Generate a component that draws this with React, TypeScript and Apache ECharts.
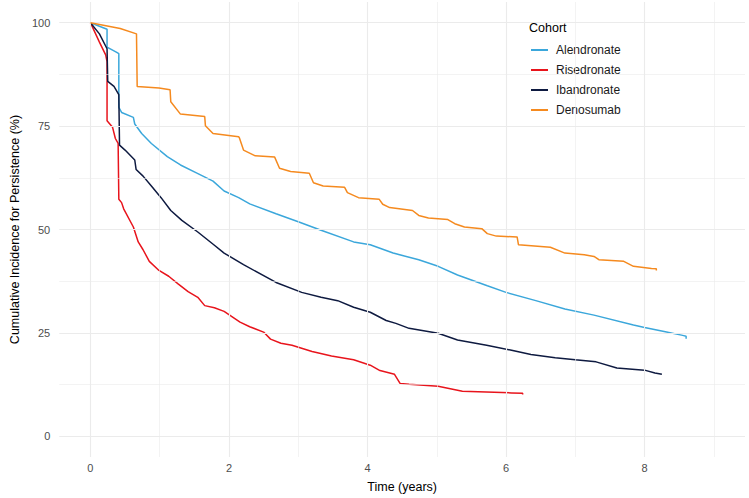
import React, { useEffect, useRef } from "react";
import * as echarts from "echarts";

const cohorts = ["Alendronate", "Risedronate", "Ibandronate", "Denosumab"];
const colors = ["#3BA7DB", "#E8141C", "#0E1A40", "#F58A1F"];

const alendronateT = [0, 0.24, 0.24, 0.38, 0.41, 0.41, 0.45, 0.62, 0.64, 0.74, 0.88, 1.11, 1.3, 1.53, 1.77, 1.93, 2.14, 2.3, 2.68, 3.01, 3.33, 3.8, 4.04, 4.37, 4.74, 5.02, 5.3, 5.73, 6.0, 6.43, 6.85, 7.27, 7.84, 8.0, 8.3, 8.55, 8.6, 8.6];
const alendronateV = [100, 98.4, 94.1, 92.8, 92.5, 79.5, 78.3, 77.1, 75.5, 73.2, 70.8, 67.6, 65.6, 63.7, 61.7, 59.3, 57.7, 56.2, 53.8, 51.8, 49.8, 47.0, 46.3, 44.3, 42.7, 41.1, 39.0, 36.4, 34.8, 32.8, 30.8, 29.3, 26.9, 26.3, 25.3, 24.4, 24.2, 23.6];

const risedronateT = [0, 0.13, 0.22, 0.24, 0.24, 0.32, 0.36, 0.4, 0.41, 0.45, 0.48, 0.62, 0.69, 0.76, 0.85, 0.99, 1.13, 1.27, 1.41, 1.55, 1.65, 1.79, 1.93, 2.16, 2.3, 2.5, 2.6, 2.75, 2.91, 3.2, 3.48, 3.8, 4.04, 4.18, 4.39, 4.47, 4.6, 5.02, 5.37, 6.08, 6.24, 6.24];
const risedronateV = [100, 95.3, 92.2, 90.6, 76.3, 74.7, 72.0, 70.8, 57.3, 56.5, 55.0, 50.6, 47.0, 45.1, 42.3, 40.1, 38.7, 36.8, 35.0, 33.6, 31.6, 31.1, 30.2, 27.6, 26.5, 25.2, 23.5, 22.5, 22.0, 20.5, 19.4, 18.5, 17.2, 15.9, 15.0, 12.8, 12.6, 12.1, 10.9, 10.5, 10.4, 10.1];

const ibandronateT = [0, 0.13, 0.24, 0.25, 0.34, 0.41, 0.42, 0.5, 0.64, 0.66, 0.76, 0.88, 1.02, 1.16, 1.32, 1.55, 1.79, 1.93, 2.21, 2.68, 3.05, 3.33, 3.57, 3.8, 4.04, 4.27, 4.41, 4.6, 5.02, 5.3, 5.72, 6.08, 6.36, 6.71, 7.0, 7.3, 7.6, 8.0, 8.15, 8.25];
const ibandronateV = [100, 97.3, 93.7, 85.8, 84.6, 82.6, 70.4, 69.2, 66.8, 64.5, 62.9, 60.5, 57.7, 54.6, 52.2, 49.4, 46.2, 44.3, 41.5, 37.2, 34.8, 33.6, 32.8, 31.2, 30.0, 28.0, 27.3, 26.1, 24.9, 23.3, 22.0, 20.8, 19.8, 19.0, 18.5, 18.0, 16.5, 16.0, 15.3, 15.0];

const denosumabT = [0, 0.43, 0.665, 0.675, 0.99, 1.15, 1.16, 1.3, 1.65, 1.66, 1.77, 2.14, 2.15, 2.21, 2.38, 2.66, 2.73, 2.89, 3.16, 3.22, 3.36, 3.67, 3.71, 3.87, 4.17, 4.22, 4.32, 4.65, 4.74, 4.88, 5.16, 5.26, 5.4, 5.65, 5.73, 5.86, 6.16, 6.18, 6.64, 6.85, 7.13, 7.27, 7.34, 7.7, 7.84, 8.1, 8.17, 8.17];
const denosumabV = [100, 98.6, 97.3, 84.6, 84.2, 83.8, 80.9, 77.9, 77.3, 75.1, 73.2, 72.4, 72.2, 69.2, 67.8, 67.5, 64.8, 64.0, 63.6, 61.3, 60.5, 60.2, 58.9, 57.7, 57.3, 56.1, 55.3, 54.6, 53.4, 52.8, 52.4, 51.4, 50.6, 50.2, 49.0, 48.4, 48.2, 46.3, 45.7, 44.3, 43.9, 43.5, 42.7, 42.3, 41.1, 40.6, 40.5, 40.1];

const seriesTimes = [alendronateT, risedronateT, ibandronateT, denosumabT];
const seriesValues = [alendronateV, risedronateV, ibandronateV, denosumabV];

const xMajorTicks = [0, 2, 4, 6, 8];
const xMinorTicks = [1, 3, 5, 7, 9];
const yMajorTicks = [0, 25, 50, 75, 100];
const yMinorTicks = [12.5, 37.5, 62.5, 87.5];

const FONT = "Liberation Sans, Arial, sans-serif";

export default function App() {
  const ref = useRef<HTMLDivElement>(null);
  useEffect(() => {
    if (!ref.current) return;
    const chart = echarts.init(ref.current, null, { renderer: "svg" });
    const gridColor = "#EBEBEB";
    const gridLines: any[] = [];
    xMinorTicks.forEach((v) => gridLines.push({ xAxis: v, lineStyle: { width: 0.6, color: gridColor } }));
    yMinorTicks.forEach((v) => gridLines.push({ yAxis: v, lineStyle: { width: 0.6, color: gridColor } }));
    xMajorTicks.forEach((v) => gridLines.push({ xAxis: v, lineStyle: { width: 1.1, color: gridColor } }));
    yMajorTicks.forEach((v) => gridLines.push({ yAxis: v, lineStyle: { width: 1.1, color: gridColor } }));

    const series: any[] = [
      {
        name: "grid",
        type: "line",
        data: [[0, 100]],
        showSymbol: false,
        lineStyle: { opacity: 0 },
        silent: true,
        z: 0,
        markLine: {
          silent: true,
          symbol: ["none", "none"],
          label: { show: false },
          lineStyle: { type: "solid" },
          data: gridLines,
        },
      },
    ];
    cohorts.forEach((name, i) => {
      series.push({
        name,
        type: "line",
        data: seriesTimes[i].map((t, j) => [t, seriesValues[i][j]]),
        showSymbol: false,
        symbol: "none",
        lineStyle: { width: 1.5, color: colors[i] },
        itemStyle: { color: colors[i] },
        z: 2 + i,
      });
    });

    chart.setOption({
      animation: false,
      textStyle: { fontFamily: FONT },
      grid: { left: 40.7, right: 4, top: 2, bottom: 32, containLabel: false },
      xAxis: {
        type: "value",
        min: -0.45,
        max: 9.45,
        splitLine: { show: false },
        axisLine: { show: false },
        axisTick: { show: false },
        axisLabel: { customValues: xMajorTicks, color: "#4D4D4D", fontSize: 11, margin: 5, fontFamily: FONT },
        name: "Time (years)",
        nameLocation: "middle",
        nameGap: 23,
        nameTextStyle: { color: "#000", fontSize: 12.5, fontFamily: FONT },
      },
      yAxis: {
        type: "value",
        min: -5,
        max: 105,
        splitLine: { show: false },
        axisLine: { show: false },
        axisTick: { show: false },
        axisLabel: { customValues: yMajorTicks, color: "#4D4D4D", fontSize: 11, margin: 9, fontFamily: FONT },
        name: "Cumulative Incidence for Persistence (%)",
        nameLocation: "middle",
        nameGap: 36,
        nameTextStyle: { color: "#000", fontSize: 12.5, fontFamily: FONT },
      },
      legend: {
        data: cohorts,
        orient: "vertical",
        left: 531,
        top: 43,
        padding: 0,
        icon: "rect",
        itemWidth: 17,
        itemHeight: 2,
        itemGap: 6,
        textStyle: { color: "#1A1A1A", fontSize: 12, lineHeight: 14, fontFamily: FONT, padding: [0, 0, 0, 3] },
      },
      graphic: [
        {
          type: "text",
          left: 529,
          top: 21,
          style: { text: "Cohort", fill: "#000", fontSize: 12.5, fontFamily: FONT },
        },
      ],
      series,
    });
    return () => chart.dispose();
  }, []);
  return (
    <div
      ref={ref}
      style={{ position: "fixed", left: 0, top: 0, width: 749, height: 498, background: "#fff" }}
    />
  );
}
